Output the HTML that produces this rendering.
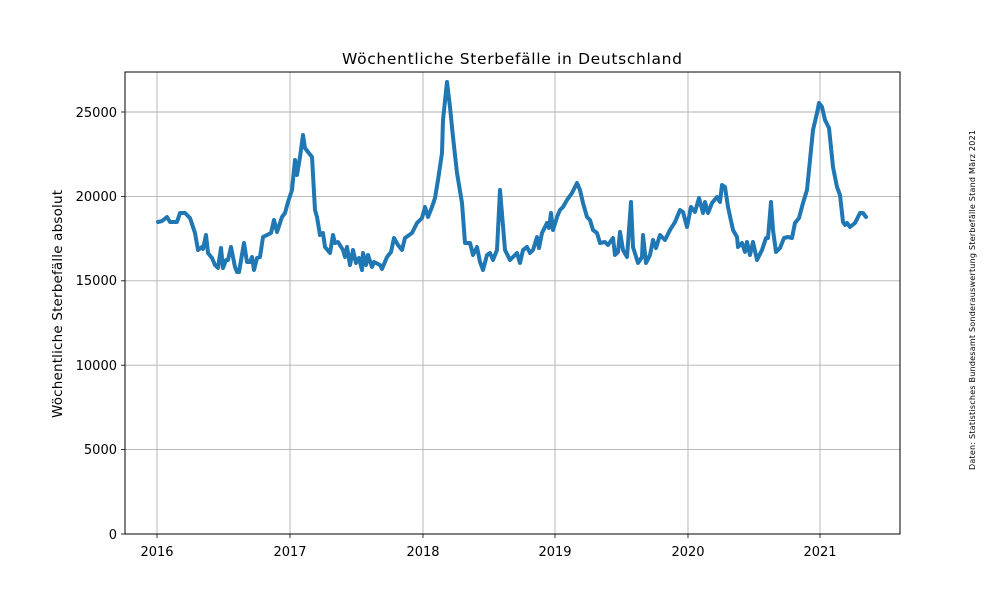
<!DOCTYPE html>
<html><head><meta charset="utf-8"><style>body{margin:0;background:#fff}svg{display:block}</style></head><body>
<svg width="1000" height="600" xmlns="http://www.w3.org/2000/svg" font-family="DejaVu Sans, sans-serif">
<rect width="1000" height="600" fill="#fff"/>
<g stroke="#b0b0b0" stroke-width="0.9">
<line x1="157" y1="72" x2="157" y2="534"/><line x1="290" y1="72" x2="290" y2="534"/><line x1="423" y1="72" x2="423" y2="534"/><line x1="555" y1="72" x2="555" y2="534"/><line x1="688" y1="72" x2="688" y2="534"/><line x1="820" y1="72" x2="820" y2="534"/>
<line x1="125" y1="449.6" x2="900" y2="449.6"/><line x1="125" y1="365.2" x2="900" y2="365.2"/><line x1="125" y1="280.8" x2="900" y2="280.8"/><line x1="125" y1="196.4" x2="900" y2="196.4"/><line x1="125" y1="112" x2="900" y2="112"/>
</g>
<polyline fill="none" stroke="#1f77b4" stroke-width="4" stroke-linejoin="round" stroke-linecap="round" points="158,222 162,221 167,217 170,222 177,222 180,213 185,213 190,218 195,233 198,250 202,247 203,249 206,235 208,253 212,258 215,265 218,268 221,248 223,268 226,260 228,260 231,247 235,267 237,272 239,272 244,243 247,262 250,262 252,257 254,270 257,258 260,257 263,237 267,235 271,233 274,220 277,232 282,217 285,213 288,202 292,190 295,160 297,175 300,157 303,135 305,148 308,152 312,157 315,210 317,217 320,235 323,233 325,247 330,253 333,235 335,243 338,242 343,250 345,257 347,247 350,265 353,250 356,263 359,258 362,270 363,253 366,265 368,255 372,267 374,262 380,265 382,269 387,257 391,252 394,238 398,245 402,250 405,238 412,233 417,223 422,218 425,207 428,217 432,207 435,198 438,180 442,153 443,120 447,82 450,107 453,137 457,173 462,203 465,243 470,243 473,255 477,247 480,262 483,270 487,255 490,253 493,260 497,250 500,190 505,250 510,260 513,257 517,253 520,263 523,250 527,247 530,253 533,250 537,237 539,248 542,233 547,223 549,228 551,213 553,230 557,217 560,210 563,207 567,200 572,193 577,183 580,190 583,203 587,217 590,220 593,230 597,233 600,243 605,242 608,245 613,238 615,255 618,252 620,232 623,250 627,257 631,202 633,247 638,263 642,257 643,235 646,263 650,255 653,240 656,248 660,235 665,240 670,230 675,222 680,210 683,212 687,227 691,207 695,212 699,198 703,213 705,202 708,213 712,203 717,197 720,202 722,185 725,187 728,207 733,230 737,237 738,247 742,243 745,252 747,242 750,255 753,242 757,260 762,250 766,238 768,238 771,202 773,230 776,252 780,248 784,238 788,237 792,238 795,223 799,218 803,203 807,190 810,160 813,130 817,113 819,103 822,107 825,120 829,128 833,167 837,187 840,195 843,222 845,225 847,223 850,227 855,223 860,213 863,213 866,217"/>
<rect x="125" y="72" width="775" height="462" fill="none" stroke="#000" stroke-width="1"/>
<g stroke="#000" stroke-width="0.8">
<line x1="157" y1="534" x2="157" y2="538"/><line x1="290" y1="534" x2="290" y2="538"/><line x1="423" y1="534" x2="423" y2="538"/><line x1="555" y1="534" x2="555" y2="538"/><line x1="688" y1="534" x2="688" y2="538"/><line x1="820" y1="534" x2="820" y2="538"/>
<line x1="121" y1="534" x2="125" y2="534"/><line x1="121" y1="449.6" x2="125" y2="449.6"/><line x1="121" y1="365.2" x2="125" y2="365.2"/><line x1="121" y1="280.8" x2="125" y2="280.8"/><line x1="121" y1="196.4" x2="125" y2="196.4"/><line x1="121" y1="112" x2="125" y2="112"/>
</g>
<g font-size="13" fill="#000" text-anchor="middle">
<text x="157" y="556">2016</text><text x="290" y="556">2017</text><text x="423" y="556">2018</text><text x="555" y="556">2019</text><text x="688" y="556">2020</text><text x="820" y="556">2021</text>
</g>
<g font-size="13" fill="#000" text-anchor="end">
<text x="117" y="539">0</text><text x="117" y="454">5000</text><text x="117" y="370">10000</text><text x="117" y="285">15000</text><text x="117" y="201">20000</text><text x="117" y="117">25000</text>
</g>
<text x="512" y="64" font-size="15.5" text-anchor="middle" textLength="340">Wöchentliche Sterbefälle in Deutschland</text>
<text transform="translate(62,304) rotate(-90)" font-size="13.5" text-anchor="middle" textLength="228">Wöchentliche Sterbefälle absolut</text>
<text transform="translate(975,300) rotate(-90)" font-size="8" text-anchor="middle" textLength="340">Daten: Statistisches Bundesamt Sonderauswertung Sterbefälle Stand März 2021</text>
</svg>
</body></html>
